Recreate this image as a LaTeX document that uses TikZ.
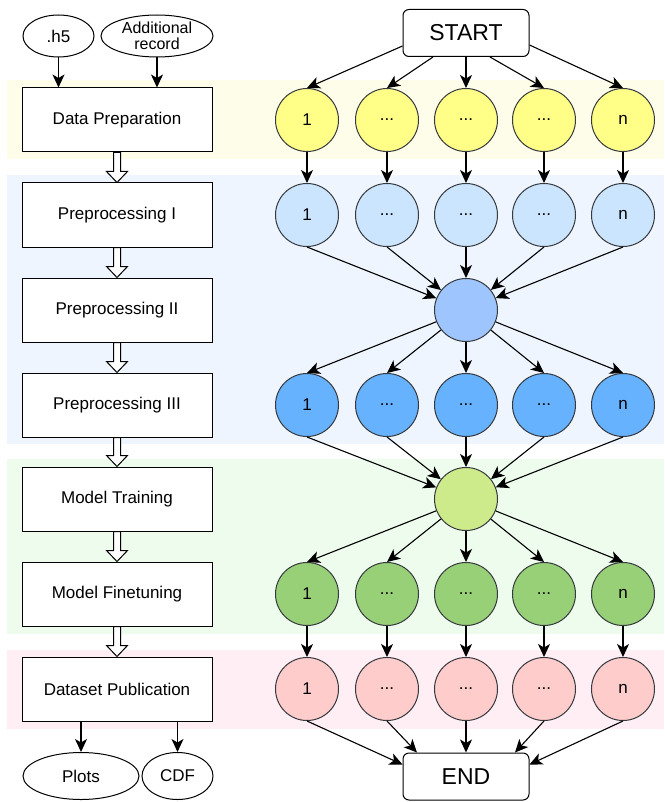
\documentclass[tikz,border=0pt]{standalone}
\usepackage{fontspec}
\setmainfont{Liberation Sans}
\usetikzlibrary{arrows.meta,calc,shapes.geometric}
\definecolor{ybandc}{HTML}{FDFDE9}
\definecolor{bbandc}{HTML}{EEF5FE}
\definecolor{gbandc}{HTML}{EDFCED}
\definecolor{pbandc}{HTML}{FFEEF4}
\definecolor{cyel}{HTML}{FFFF88}
\definecolor{clblue}{HTML}{CCE5FF}
\definecolor{cmblue}{HTML}{9EC5FE}
\definecolor{cblue}{HTML}{66B2FF}
\definecolor{clgreen}{HTML}{CDEB8B}
\definecolor{cgreen}{HTML}{97D077}
\definecolor{cpink}{HTML}{FFCCCC}
\definecolor{cborder}{HTML}{36393D}
\newcommand{\tdots}{...}
\newcommand{\hollowconn}[2]{%
  \draw[hollow] ($(#1.south)+(-3.5,0)$) -- ($(#2.north)+(-3.5,-11)$) -- ($(#2.north)+(-10.5,-11)$) -- (#2.north) -- ($(#2.north)+(10.5,-11)$) -- ($(#2.north)+(3.5,-11)$) -- ($(#1.south)+(3.5,0)$) -- cycle;}
\begin{document}
\begin{tikzpicture}[x=1pt,y=-1pt,
  font=\fontsize{17}{15}\selectfont,
  arr/.style={-{Stealth[length=13pt,width=12pt,inset=3.5pt]}, line width=1.1pt, black},
  box/.style={draw, line width=1pt, fill=white, minimum width=190pt, minimum height=64pt, inner sep=0pt},
  circ/.style={circle, draw=cborder, line width=1pt, minimum size=63pt, inner sep=0pt},
  term/.style={draw, rounded corners=6pt, line width=1pt, fill=white, minimum width=126pt, minimum height=47pt, inner sep=0pt, font=\fontsize{23}{23}\selectfont},
  oval/.style={ellipse, draw, line width=1pt, fill=white, inner sep=0pt, align=center},
  hollow/.style={draw, fill=white, line width=1pt, line join=miter}
]
\useasboundingbox (0,0) rectangle (664,802);
% bands
\fill[ybandc] (7,80) rectangle (664,159);
\fill[bbandc] (7,175) rectangle (664,444);
\fill[gbandc] (7,459) rectangle (664,634);
\fill[pbandc] (7,650) rectangle (664,729);

% inputs
\node[oval, minimum width=71pt, minimum height=42pt] (h5) at (58.5,36) {.h5};
\node[oval, minimum width=112pt, minimum height=42pt, font=\fontsize{16}{16.5}\selectfont] (addrec) at (157,36) {Additional\\record};

% left boxes
\node[box] (dp) at (117,120) {Data Preparation};
\node[box] (pp1) at (117,215) {Preprocessing I};
\node[box] (pp2) at (117,310) {Preprocessing II};
\node[box] (pp3) at (117,405) {Preprocessing III};
\node[box] (mt) at (117,499) {Model Training};
\node[box] (mf) at (117,594) {Model Finetuning};
\node[box] (pub) at (117,689) {Dataset Publication};

% outputs
\node[oval, minimum width=116pt, minimum height=47pt] (plots) at (81,776) {Plots};
\node[oval, minimum width=71pt, minimum height=47pt] (cdf) at (177.5,776) {CDF};

% arrows left
\draw[arr] (h5.south) -- (h5.south |- dp.north);
\draw[arr] (addrec.south) -- (addrec.south |- dp.north);
\draw[arr] (plots.north |- pub.south) -- (plots.north);
\draw[arr] (cdf.north |- pub.south) -- (cdf.north);
\hollowconn{dp}{pp1}
\hollowconn{pp1}{pp2}
\hollowconn{pp2}{pp3}
\hollowconn{pp3}{mt}
\hollowconn{mt}{mf}
\hollowconn{mf}{pub}

% terminals
\node[term] (start) at (466,33) {START};
\node[term] (end) at (466,776.5) {END};

% circle rows
\foreach \i/\x/\t in {1/307/1, 2/387/\tdots, 3/466/\tdots, 4/544/\tdots, 5/623/n} {
  \node[circ, fill=cyel] (y\i) at (\x,120) {\t};
  \node[circ, fill=clblue] (l\i) at (\x,215) {\t};
  \node[circ, fill=cblue] (b\i) at (\x,405) {\t};
  \node[circ, fill=cgreen] (g\i) at (\x,594) {\t};
  \node[circ, fill=cpink] (p\i) at (\x,689) {\t};
}
\node[circ, fill=cmblue] (a1) at (466,310) {};
\node[circ, fill=clgreen] (a2) at (466,499) {};

% start to yellow
\draw[arr] ($(start.west)+(0,13)$) -- (y1.north);
\draw[arr] ($(start.south)+(-33,0)$) -- (y2.north);
\draw[arr] (start.south) -- (y3.north);
\draw[arr] ($(start.south)+(24,0)$) -- (y4.north);
\draw[arr] ($(start.east)+(0,12)$) -- (y5.north);

\foreach \i in {1,2,3,4,5} {
  \draw[arr] (y\i) -- (l\i);
  \draw[arr] (l\i.south) -- (a1);
  \draw[arr] (a1) -- (b\i.north);
  \draw[arr] (b\i.south) -- (a2);
  \draw[arr] (a2) -- (g\i.north);
  \draw[arr] (g\i) -- (p\i);
}

% pink to end
\draw[arr] (p1.south) -- ($(end.west)+(0,-12)$);
\draw[arr] (p2.south) -- ($(end.north)+(-49,0)$);
\draw[arr] (p3.south) -- (end.north);
\draw[arr] (p4.south) -- ($(end.north)+(49,0)$);
\draw[arr] (p5.south) -- ($(end.east)+(0,-12)$);
\end{tikzpicture}
\end{document}
